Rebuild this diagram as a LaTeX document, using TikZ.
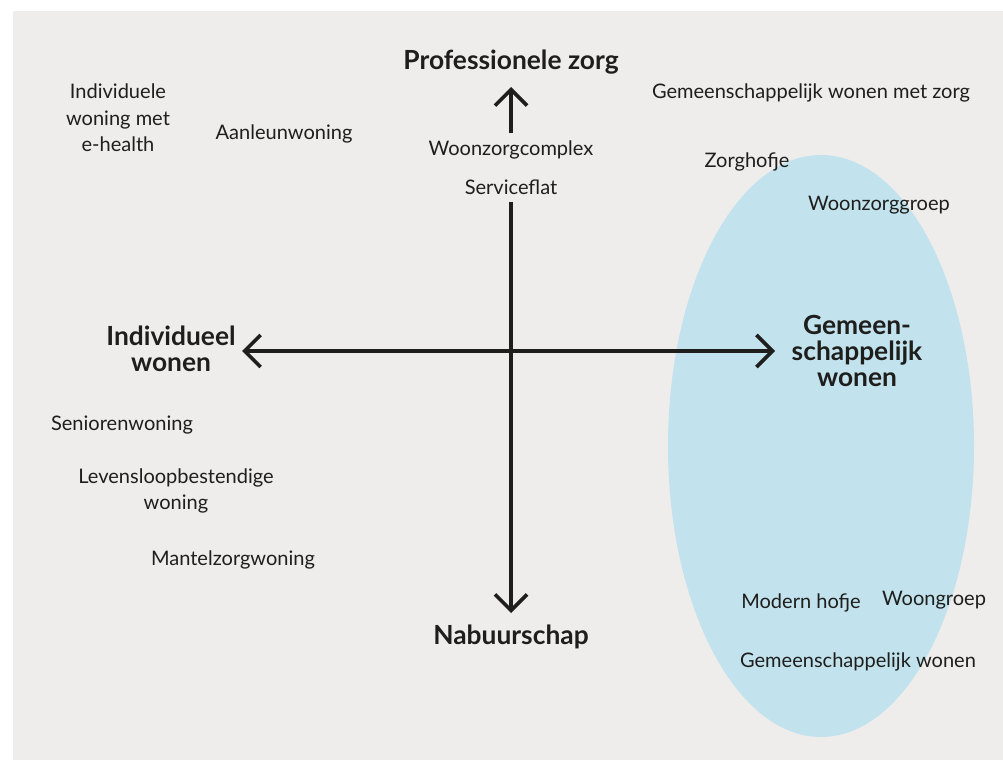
\documentclass[tikz,border=0pt]{standalone}
\usepackage{fontspec}
\setmainfont{Lato}
\usetikzlibrary{arrows.meta,positioning}

\definecolor{panelgray}{HTML}{EEEDEB}
\definecolor{ovalblue}{HTML}{C2E3ED}
\definecolor{inkblack}{HTML}{1E1E1C}

\tikzset{
  label/.style={font=\fontsize{11.4}{15}\selectfont, text=inkblack, align=center, inner sep=1pt},
  axislabel/.style={font=\fontsize{15}{14.8}\selectfont\bfseries, text=inkblack, align=center, inner sep=1pt},
  barb/.tip={Straight Barb[length=0.32cm, width=0.64cm, line width=2.1pt]},
  axis/.style={line width=2.3pt, draw=inkblack},
}

\begin{document}
\begin{tikzpicture}[x=0.02cm, y=-0.02cm]
  \useasboundingbox (0,0) rectangle (1003,760);
  \fill[panelgray] (13,11) rectangle (1003,760);
  \fill[ovalblue] (821,446) ellipse [x radius=153, y radius=291];

  % axis ends
  \coordinate (top) at (511,87);
  \coordinate (bottom) at (511,613);
  \coordinate (left) at (242,351);
  \coordinate (right) at (775,351);

  % axis labels
  \node[axislabel] (prof) at (511,62) {Professionele zorg};
  \node[axislabel] (nabuur) at (511,637) {Nabuurschap};
  \node[axislabel] (indiv) at (171,349) {Individueel\\wonen};
  \node[axislabel] (gemeen) at (857,351) {Gemeen-\\schappelijk\\wonen};

  % woonvormen
  \node[label, inner ysep=4pt] (wzc) at (511,150) {Woonzorgcomplex};
  \node[label, inner ysep=4pt] (sflat) at (511,187) {Serviceflat};
  \node[label] (ehealth) at (118,118) {Individuele\\woning met\\e-health};
  \node[label] (aanleun) at (284,134) {Aanleunwoning};
  \node[label] (gwmz) at (811,93) {Gemeenschappelijk wonen met zorg};
  \node[label] (zhofje) at (747,162) {Zorghofje};
  \node[label] (wzgroep) at (879,205) {Woonzorggroep};
  \node[label] (senior) at (122,425) {Seniorenwoning};
  \node[label] (levens) at (176,491) {Levensloopbestendige\\woning};
  \node[label] (mantel) at (233,560) {Mantelzorgwoning};
  \node[label] (mhofje) at (801,603) {Modern hofje};
  \node[label] (wgroep) at (934,600) {Woongroep};
  \node[label] (gw) at (858,662) {Gemeenschappelijk wonen};

  \draw[axis, {barb}-{barb}] (left) -- (right);
  \draw[axis, -{barb}] (wzc.north) -- (top);
  \draw[axis, -{barb}] (sflat.south) -- (bottom);
\end{tikzpicture}
\end{document}
